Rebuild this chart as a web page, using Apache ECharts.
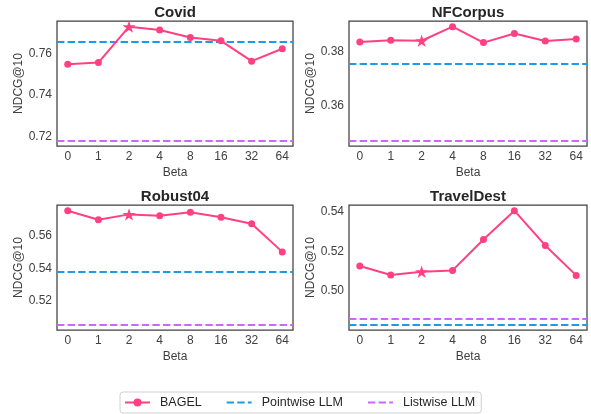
<!DOCTYPE html>
<html>
<head>
<meta charset="utf-8">
<script src="https://cdn.jsdelivr.net/npm/echarts@6/dist/echarts.min.js"></script>
<style>html,body{margin:0;padding:0;background:#fff}#c{width:591px;height:414px}</style>
</head>
<body>
<div id="c"></div>
<script>
const betaLabels = ['0', '1', '2', '4', '8', '16', '32', '64'];
const panelTitles = ['Covid', 'NFCorpus', 'Robust04', 'TravelDest'];
const bagelCovid = [0.7548, 0.7556, 0.7729, 0.7713, 0.7677, 0.7661, 0.7563, 0.7623];
const bagelNFCorpus = [0.3836, 0.3843, 0.3841, 0.3893, 0.3834, 0.3868, 0.3840, 0.3847];
const bagelRobust04 = [0.5758, 0.5702, 0.5735, 0.5727, 0.5748, 0.5717, 0.5677, 0.5502];
const bagelTravelDest = [0.5126, 0.5081, 0.5097, 0.5104, 0.5259, 0.5403, 0.5229, 0.5079];
const pointwiseLLM = [0.7655, 0.3754, 0.5381, 0.4834];
const listwiseLLM = [0.7182, 0.3472, 0.5052, 0.4862];
const yTicks = [[0.72, 0.74, 0.76], [0.36, 0.38], [0.52, 0.54, 0.56], [0.50, 0.52, 0.54]];
const bestIndex = 2;

const bagel = [bagelCovid, bagelNFCorpus, bagelRobust04, bagelTravelDest];
const PINK = '#ff4081', BLUE = '#1e9be8', PURPLE = '#cc66ff';
const FONT = 'Liberation Sans, Arial, sans-serif';
const STAR = 'path://M0,-1 L0.2245,-0.309 L0.951,-0.309 L0.363,0.118 L0.588,0.809 L0,0.382 L-0.588,0.809 L-0.363,0.118 L-0.951,-0.309 L-0.2245,-0.309 Z';
const DASH_ICON = 'path://M0,0 H7.4 V2 H0 Z M10.6,0 H18 V2 H10.6 Z M21.2,0 H25 V2 H21.2 Z';
const DASH = [7.4, 3.2];

const grids = [
  {left: 57, top: 21, width: 236, height: 125},
  {left: 349, top: 21, width: 238, height: 125},
  {left: 57, top: 205, width: 236, height: 125},
  {left: 349, top: 205, width: 238, height: 125}
];

function range(i) {
  const vals = bagel[i].concat([pointwiseLLM[i], listwiseLLM[i]]);
  const lo = Math.min(...vals), hi = Math.max(...vals);
  const m = (hi - lo) * 0.05;
  return [lo - m, hi + m];
}

const option = {
  animation: false,
  backgroundColor: '#fff',
  textStyle: {fontFamily: FONT},
  title: grids.map((g, i) => ({
    text: panelTitles[i],
    left: g.left + g.width / 2,
    top: i < 2 ? 5 : 189,
    padding: 0,
    textAlign: 'center',
    textStyle: {fontSize: 15, fontWeight: 'bold', color: '#262626', fontFamily: FONT}
  })),
  grid: grids.map(g => Object.assign({show: true, borderColor: '#404040', borderWidth: 1.25, backgroundColor: '#fff'}, g)),
  xAxis: grids.map((g, i) => ({
    type: 'value', gridIndex: i, min: -0.35, max: 7.35,
    name: 'Beta', nameLocation: 'middle', nameGap: 21,
    nameTextStyle: {fontSize: 12, color: '#404040', fontFamily: FONT},
    axisLine: {show: false}, axisTick: {show: false}, splitLine: {show: false},
    axisLabel: {customValues: [0,1,2,3,4,5,6,7], formatter: v => betaLabels[Math.round(v)], fontSize: 12, color: '#404040', margin: 5, fontFamily: FONT}
  })),
  yAxis: grids.map((g, i) => {
    const r = range(i);
    return {
      type: 'value', gridIndex: i, min: r[0], max: r[1],
      name: 'NDCG@10', nameLocation: 'middle', nameGap: 31,
      nameTextStyle: {fontSize: 12, color: '#404040', fontFamily: FONT},
      axisLine: {show: false}, axisTick: {show: false}, splitLine: {show: false},
      axisLabel: {customValues: yTicks[i], formatter: v => v.toFixed(2), fontSize: 12, color: '#404040', margin: 5, fontFamily: FONT}
    };
  }),
  legend: {
    data: [
      {name: 'BAGEL'},
      {name: 'Pointwise LLM', icon: DASH_ICON, itemStyle: {color: BLUE}},
      {name: 'Listwise LLM', icon: DASH_ICON, itemStyle: {color: PURPLE}}
    ],
    left: 120, top: 392,
    itemWidth: 25, itemHeight: 10, itemGap: 25,
    symbolKeepAspect: true,
    padding: [4, 6, 4, 4],
    borderColor: '#d0d0d0', borderWidth: 1, borderRadius: 3,
    textStyle: {fontSize: 12.5, color: '#262626', fontFamily: FONT, padding: [0, 0, 0, 5]}
  },
  series: []
};

for (let i = 0; i < 4; i++) {
  option.series.push({
    name: 'BAGEL', type: 'line', xAxisIndex: i, yAxisIndex: i,
    data: bagel[i].map((v, k) => k === bestIndex
      ? {value: [k, v], symbol: STAR, symbolSize: 13, symbolKeepAspect: true}
      : [k, v]),
    symbol: 'circle', symbolSize: 7,
    lineStyle: {color: PINK, width: 2},
    itemStyle: {color: PINK},
    z: 5,
    markLine: {silent: true, symbol: 'none', label: {show: false}, z: 2, precision: 6,
      data: [
        {yAxis: pointwiseLLM[i], lineStyle: {color: BLUE, width: 2, type: DASH}},
        {yAxis: listwiseLLM[i], lineStyle: {color: PURPLE, width: 2, type: DASH}}
      ]}
  });
}
option.series.push({
  name: 'Pointwise LLM', type: 'line', xAxisIndex: 0, yAxisIndex: 0,
  data: [], symbol: 'none', lineStyle: {color: BLUE, width: 2, type: DASH}, itemStyle: {color: BLUE}
});
option.series.push({
  name: 'Listwise LLM', type: 'line', xAxisIndex: 0, yAxisIndex: 0,
  data: [], symbol: 'none', lineStyle: {color: PURPLE, width: 2, type: DASH}, itemStyle: {color: PURPLE}
});

const chart = echarts.init(document.getElementById('c'));
chart.setOption(option);
</script>
</body>
</html>
